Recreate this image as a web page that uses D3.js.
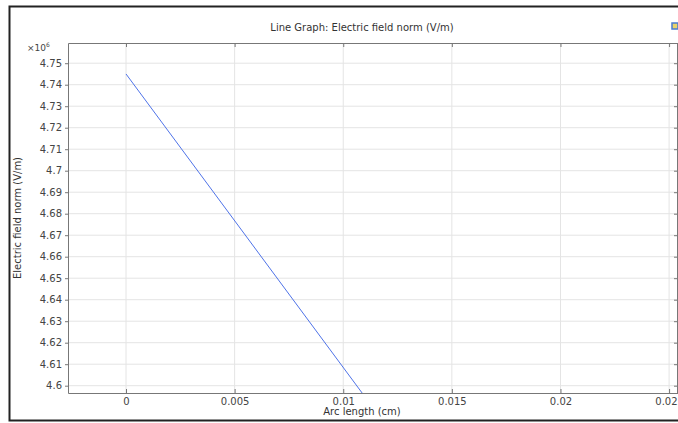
<!DOCTYPE html>
<html>
<head>
<meta charset="utf-8">
<script src="https://cdn.jsdelivr.net/npm/d3@7"></script>
<style>
  body { margin: 0; background: #fff; }
  svg { display: block; font-family: "DejaVu Sans", sans-serif; }
</style>
</head>
<body>
<svg id="chart" width="678" height="423"></svg>
<script>
// data
const arcLength = [0, 0.01087];            // cm
const fieldNorm = [4.745e6, 4.5966e6];      // V/m
const xTicks = [0, 0.005, 0.01, 0.015, 0.02, 0.025];
const yTicks = [4.6, 4.61, 4.62, 4.63, 4.64, 4.65, 4.66, 4.67, 4.68, 4.69, 4.7, 4.71, 4.72, 4.73, 4.74, 4.75];

const points = arcLength.map((a, i) => ({ x: a, y: fieldNorm[i] / 1e6 }));

let svg = d3.select('#chart');
let margin = { top: 43, left: 68, bottom: 393, right: 678 };

let x = d3.scaleLinear()
  .domain([-0.00267, 0.02541])
  .range([margin.left, margin.right]);

let y = d3.scaleLinear()
  .domain([4.5966, 4.7594])
  .range([margin.bottom, margin.top]);

// outer frame
svg.append('rect')
  .attr('x', 9.5).attr('y', 6.5)
  .attr('width', 700).attr('height', 414)
  .attr('fill', 'none')
  .attr('stroke', '#222')
  .attr('stroke-width', 2);

// title
svg.append('text')
  .attr('x', 362).attr('y', 31)
  .attr('text-anchor', 'middle')
  .attr('font-size', 10)
  .attr('fill', '#333')
  .text('Line Graph: Electric field norm (V/m)');

// little icon top right
svg.append('rect')
  .attr('x', 672).attr('y', 23).attr('width', 6).attr('height', 6)
  .attr('fill', '#e8d36a').attr('stroke', '#4a7bd0').attr('stroke-width', 1.5);

// grid
let grid = svg.append('g').attr('class', 'grid');
grid.selectAll('line.v')
  .data(xTicks)
  .enter().append('line')
  .attr('x1', (d) => x(d)).attr('x2', (d) => x(d))
  .attr('y1', margin.top).attr('y2', margin.bottom)
  .attr('stroke', '#e4e4e4');
grid.selectAll('line.h')
  .data(yTicks)
  .enter().append('line')
  .attr('y1', (d) => y(d)).attr('y2', (d) => y(d))
  .attr('x1', margin.left).attr('x2', margin.right)
  .attr('stroke', '#e4e4e4');

// clip for the line
svg.append('clipPath').attr('id', 'plotClip')
  .append('rect')
  .attr('x', margin.left).attr('y', margin.top)
  .attr('width', margin.right - margin.left)
  .attr('height', margin.bottom - margin.top);

let line = d3.line()
  .x((d) => x(d.x))
  .y((d) => y(d.y));

svg.append('path')
  .datum(points)
  .attr('clip-path', 'url(#plotClip)')
  .attr('fill', 'none')
  .attr('stroke', '#4f73e8')
  .attr('stroke-width', 1)
  .attr('d', line);

// axes
let fmt = (d) => d3.format('~g')(d);

let xAxis = svg.append('g')
  .attr('transform', `translate(0, ${margin.bottom})`)
  .call(d3.axisBottom(x).tickValues(xTicks).tickFormat(fmt).tickSizeInner(-4).tickSizeOuter(0).tickPadding(5));

let xTop = svg.append('g')
  .attr('transform', `translate(0, ${margin.top})`)
  .call(d3.axisTop(x).tickValues(xTicks).tickFormat('').tickSizeInner(-4).tickSizeOuter(0));

let yAxis = svg.append('g')
  .attr('transform', `translate(${margin.left}, 0)`)
  .call(d3.axisLeft(y).tickValues(yTicks).tickFormat(fmt).tickSizeInner(3).tickSizeOuter(0).tickPadding(3));

let yRight = svg.append('g')
  .attr('transform', `translate(${margin.right - 1}, 0)`)
  .call(d3.axisRight(y).tickValues(yTicks).tickFormat('').tickSizeInner(-3).tickSizeOuter(0));

[xAxis, xTop, yAxis, yRight].forEach((g) => {
  g.select('.domain').attr('stroke', '#777');
  g.selectAll('.tick line').attr('stroke', '#777');
  g.selectAll('text')
    .attr('fill', '#444')
    .attr('font-size', 10)
    .attr('font-family', '"DejaVu Sans", sans-serif');
});

// exponent label
let expo = svg.append('text')
  .attr('x', 27).attr('y', 51)
  .attr('font-size', 9)
  .attr('fill', '#444');
expo.append('tspan').text('×10');
expo.append('tspan').attr('dy', -4).attr('font-size', 6).text('6');

// axis labels
svg.append('text')
  .attr('x', 362).attr('y', 415)
  .attr('text-anchor', 'middle')
  .attr('font-size', 10)
  .attr('fill', '#333')
  .text('Arc length (cm)');

svg.append('text')
  .attr('transform', 'translate(21, 218) rotate(-90)')
  .attr('text-anchor', 'middle')
  .attr('font-size', 10)
  .attr('fill', '#333')
  .text('Electric field norm (V/m)');
</script>
</body>
</html>
